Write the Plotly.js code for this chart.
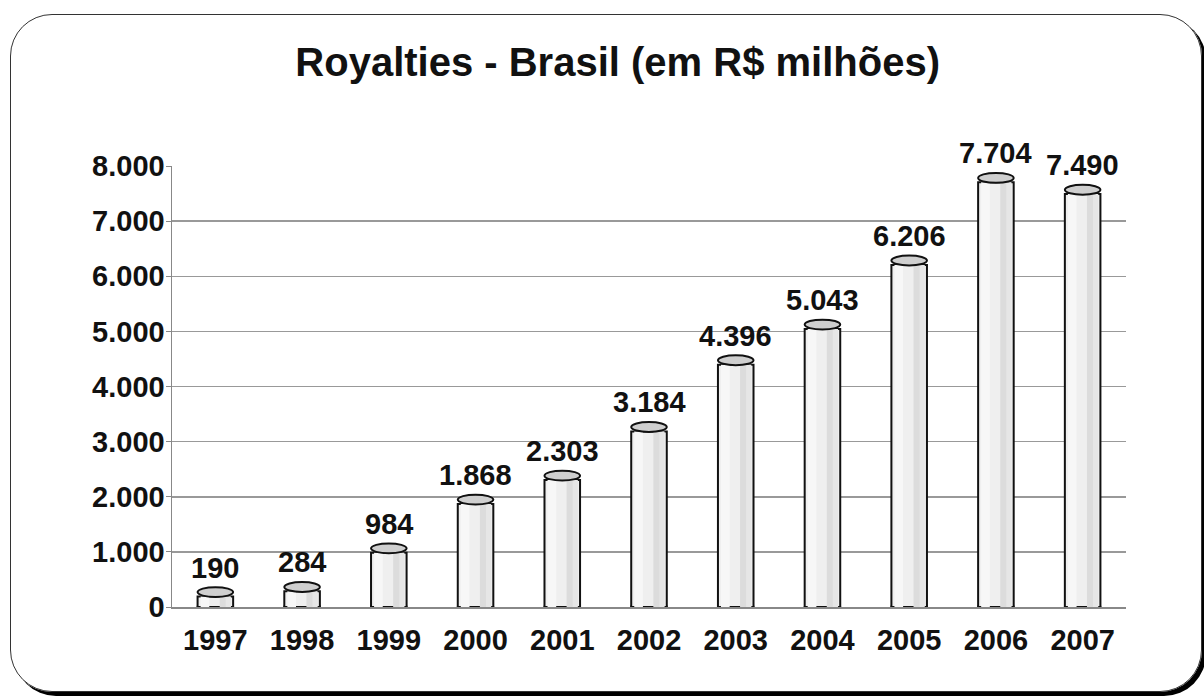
<!DOCTYPE html>
<html><head><meta charset="utf-8">
<script src="https://cdn.plot.ly/plotly-3.0.1.min.js"></script>
<style>
html,body{margin:0;padding:0;background:#fff;}
#wrap{position:relative;width:1204px;height:698px;overflow:hidden;}
#chart{position:absolute;left:0;top:0;width:1204px;height:698px;}
#frame{position:absolute;left:10px;top:14px;width:1190px;height:676px;border:1.5px solid #333;border-radius:42px;box-shadow:4px 4px 0 #000;pointer-events:none;}
</style></head>
<body><div id="wrap"><div id="frame"></div><div id="chart"></div></div>
<script>
const years = ['1997','1998','1999','2000','2001','2002','2003','2004','2005','2006','2007'];
const royalties = [190, 284, 984, 1868, 2303, 3184, 4396, 5043, 6206, 7704, 7490];
const yTicks = [0,1000,2000,3000,4000,5000,6000,7000,8000];

function fmt(v){ return String(v).replace(/\B(?=(\d{3})+(?!\d))/g,'.'); }
const idx = years.map((_,i)=>i);

const traces = [
  {type:'bar', x:idx, y:royalties, width:0.41, marker:{color:'#efefef', line:{color:'#111', width:2}}, hoverinfo:'skip'},
  {type:'bar', x:idx, y:royalties, width:0.12, offset:0.05, marker:{color:'#dcdcdc', line:{width:0}}, hoverinfo:'skip'},
  {type:'bar', x:idx, y:royalties, width:0.06, offset:0.12, marker:{color:'#e6e6e6', line:{width:0}}, hoverinfo:'skip'},
  {type:'bar', x:idx, y:royalties, width:0.1, offset:-0.17, marker:{color:'#f7f7f7', line:{width:0}}, hoverinfo:'skip'}
];

const shapes = [];
royalties.forEach((v,i)=>{
  shapes.push({type:'circle', layer:'between', xref:'x', yref:'y', x0:i-0.205, x1:i+0.205, y0:-95, y1:95, fillcolor:'#efefef', line:{color:'#111', width:2}});
  shapes.push({type:'circle', layer:'above', xref:'x', yref:'y', x0:i-0.205, x1:i+0.205, y0:v-10, y1:v+170, fillcolor:'#cfcfcf', line:{color:'#111', width:2}});
});

const FONT = 'Liberation Sans, Arial, sans-serif';
const annotations = royalties.map((v,i)=>({x:i, y:v, xref:'x', yref:'y', text:fmt(v), showarrow:false, yanchor:'bottom', yshift:11,
  font:{family:FONT, size:29, color:'#111', weight:'bold'}}));

const layout = {
  width:1204, height:698,
  paper_bgcolor:'rgba(0,0,0,0)', plot_bgcolor:'rgba(0,0,0,0)',
  margin:{l:172, r:78, t:166, b:91},
  barmode:'overlay', showlegend:false,
  title:{text:'<b>Royalties - Brasil (em R$ milhões)</b>', x:0.513, xanchor:'center', y:0.911, yanchor:'middle',
    font:{family:FONT, size:40, color:'#111'}},
  xaxis:{range:[-0.5,10.5], tickvals:idx, ticktext:years, showgrid:false, zeroline:false,
    showline:true, linecolor:'#888', linewidth:1.5, ticks:'outside', ticklen:7, tickcolor:'rgba(0,0,0,0)',
    tickfont:{family:FONT, size:29, color:'#111', weight:'bold'}},
  yaxis:{range:[0,8000], tickvals:yTicks, ticktext:yTicks.map(fmt), showgrid:true, gridcolor:'#999', gridwidth:1.5,
    zeroline:false, showline:true, linecolor:'#888', linewidth:1.5, ticks:'outside', ticklen:5, tickcolor:'#888',
    ticklabelstandoff:-5,
    tickfont:{family:FONT, size:29, color:'#111', weight:'bold'}},
  shapes:shapes, annotations:annotations
};

Plotly.newPlot('chart', traces, layout, {staticPlot:true, displayModeBar:false});
</script></body></html>
